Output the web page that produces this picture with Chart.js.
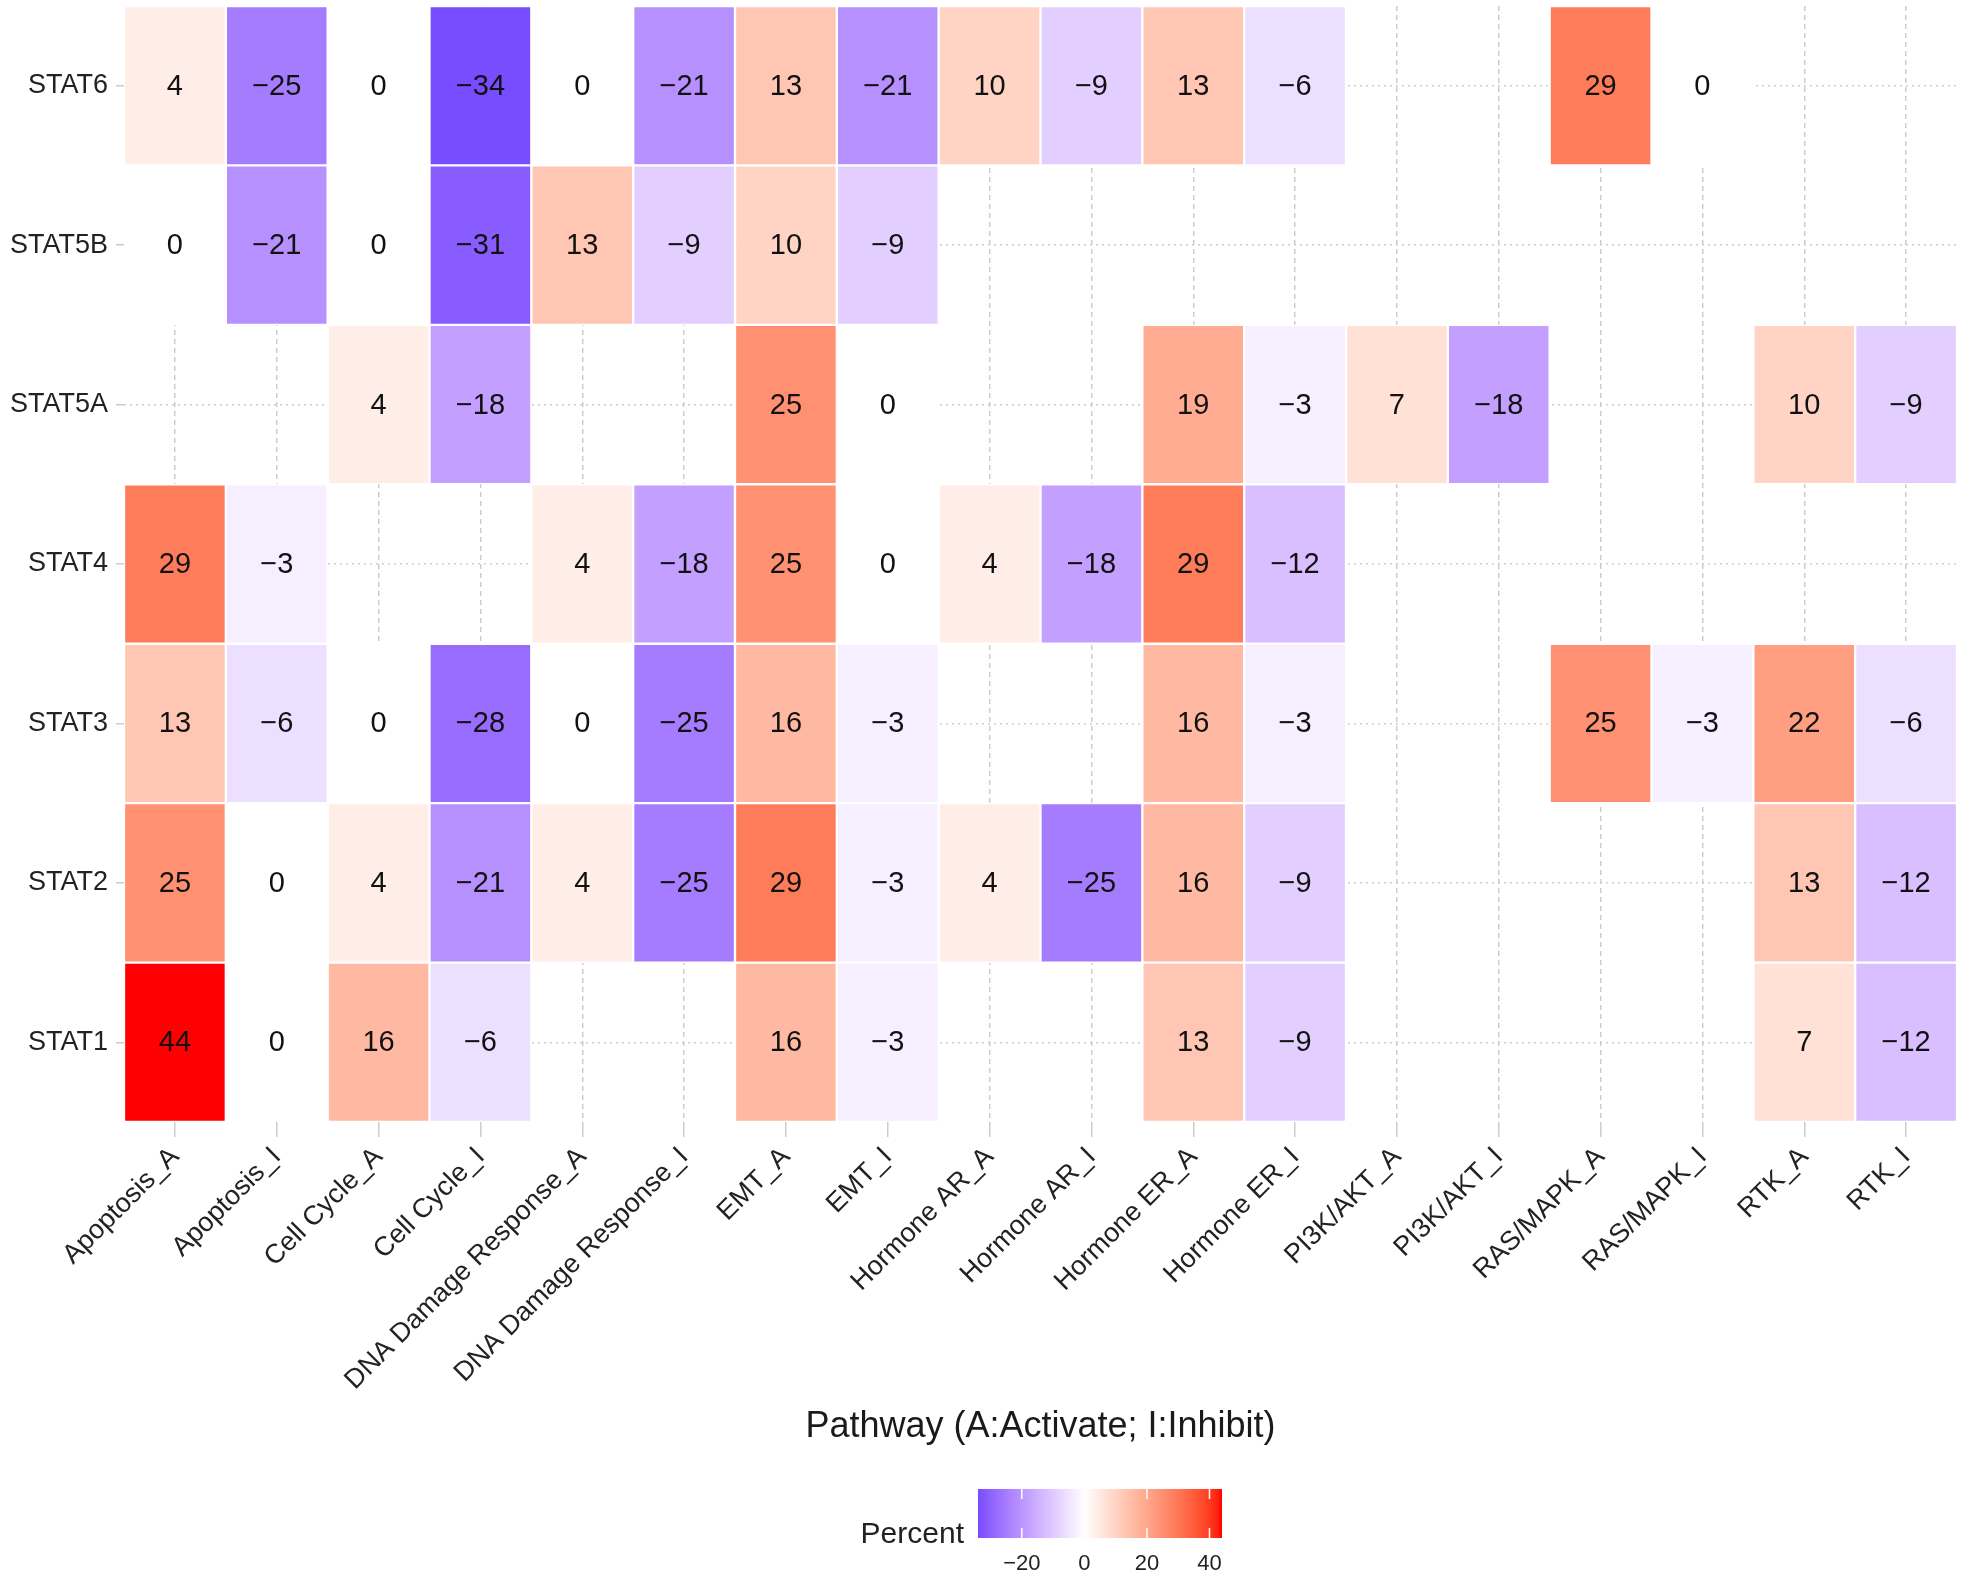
<!DOCTYPE html>
<html>
<head>
<meta charset="utf-8">
<script src="https://cdn.jsdelivr.net/npm/chart.js@4.4.1/dist/chart.umd.min.js"></script>
<style>
  html, body { margin: 0; padding: 0; background: #ffffff; }
  #wrap { width: 1969px; height: 1583px; position: relative; }
</style>
</head>
<body>
<div id="wrap"><canvas id="c"></canvas></div>
<script>
// ---- data ----
const pathways = ['Apoptosis_A','Apoptosis_I','Cell Cycle_A','Cell Cycle_I','DNA Damage Response_A','DNA Damage Response_I',
  'EMT_A','EMT_I','Hormone AR_A','Hormone AR_I','Hormone ER_A','Hormone ER_I','PI3K/AKT_A','PI3K/AKT_I',
  'RAS/MAPK_A','RAS/MAPK_I','RTK_A','RTK_I'];
const stats = ['STAT1','STAT2','STAT3','STAT4','STAT5A','STAT5B','STAT6']; // bottom to top
const stat1  = [44, 0, 16, -6, null, null, 16, -3, null, null, 13, -9, null, null, null, null, 7, -12];
const stat2  = [25, 0, 4, -21, 4, -25, 29, -3, 4, -25, 16, -9, null, null, null, null, 13, -12];
const stat3  = [13, -6, 0, -28, 0, -25, 16, -3, null, null, 16, -3, null, null, 25, -3, 22, -6];
const stat4  = [29, -3, null, null, 4, -18, 25, 0, 4, -18, 29, -12, null, null, null, null, null, null];
const stat5a = [null, null, 4, -18, null, null, 25, 0, null, null, 19, -3, 7, -18, null, null, 10, -9];
const stat5b = [0, -21, 0, -31, 13, -9, 10, -9, null, null, null, null, null, null, null, null, null, null];
const stat6  = [4, -25, 0, -34, 0, -21, 13, -21, 10, -9, 13, -6, null, null, 29, 0, null, null];
const rowValues = [stat1, stat2, stat3, stat4, stat5a, stat5b, stat6];
const legendTicks = [-20, 0, 20, 40];
const fillMin = -34, fillMax = 44;
const xTitle = 'Pathway (A:Activate; I:Inhibit)';
const legendTitle = 'Percent';

// ---- colour scale (gradient blue - white - red, Lab interpolation) ----
function srgbToLin(c){ c/=255; return c<=0.04045 ? c/12.92 : Math.pow((c+0.055)/1.055, 2.4); }
function linToSrgb(c){ c = c<=0.0031308 ? 12.92*c : 1.055*Math.pow(c,1/2.4)-0.055; return Math.round(Math.max(0,Math.min(1,c))*255); }
function rgbToLab(r,g,b){
  const R=srgbToLin(r),G=srgbToLin(g),B=srgbToLin(b);
  let X=(0.4124*R+0.3576*G+0.1805*B)/0.95047, Y=(0.2126*R+0.7152*G+0.0722*B), Z=(0.0193*R+0.1192*G+0.9505*B)/1.08883;
  const f=t=> t>0.008856 ? Math.cbrt(t) : (7.787*t+16/116);
  const fx=f(X),fy=f(Y),fz=f(Z);
  return [116*fy-16, 500*(fx-fy), 200*(fy-fz)];
}
function labToRgb(L,a,b){
  const fy=(L+16)/116, fx=fy+a/500, fz=fy-b/200;
  const fi=t=> t>0.206893 ? t*t*t : (t-16/116)/7.787;
  const X=fi(fx)*0.95047, Y=fi(fy), Z=fi(fz)*1.08883;
  const R= 3.2406*X-1.5372*Y-0.4986*Z, G=-0.9689*X+1.8758*Y+0.0415*Z, B=0.0557*X-0.2040*Y+1.0570*Z;
  return 'rgb('+linToSrgb(R)+','+linToSrgb(G)+','+linToSrgb(B)+')';
}
const LOW=rgbToLab(0,0,255), MID=rgbToLab(255,255,255), HIGH=rgbToLab(255,0,0);
function fillColor(v){
  const m = Math.max(Math.abs(fillMin), Math.abs(fillMax));
  const t = Math.max(-1, Math.min(1, v/m));
  const A = MID, Bc = t<0 ? LOW : HIGH, k = Math.abs(t);
  return labToRgb(A[0]+(Bc[0]-A[0])*k, A[1]+(Bc[1]-A[1])*k, A[2]+(Bc[2]-A[2])*k);
}
const fmt = v => (v<0 ? '\u2212'+Math.abs(v) : String(v));

const FONT = '"Liberation Sans", Arial, Helvetica, sans-serif';

const datasets = rowValues.map((vals, r) => ({
  label: stats[r],
  data: vals.map(v => v === null ? null : [r-0.5, r+0.5]),
  values: vals,
  backgroundColor: vals.map(v => v === null ? 'rgba(0,0,0,0)' : fillColor(v)),
  borderColor: '#ffffff',
  borderWidth: 1.5,
  borderSkipped: false,
  barPercentage: 1,
  categoryPercentage: 1,
  grouped: false
}));

const cellLabels = {
  id: 'cellLabels',
  afterDatasetsDraw(chart){
    const ctx = chart.ctx;
    ctx.save();
    ctx.font = '29px ' + FONT;
    ctx.fillStyle = '#111111';
    ctx.textAlign = 'center';
    ctx.textBaseline = 'middle';
    chart.data.datasets.forEach((ds, di) => {
      const meta = chart.getDatasetMeta(di);
      meta.data.forEach((el, i) => {
        const v = ds.values[i];
        if (v === null || v === undefined) return;
        ctx.fillText(fmt(v), el.x, (el.y + el.base)/2 + 1);
      });
    });
    ctx.restore();
  }
};

const colorbar = {
  id: 'colorbar',
  afterDraw(chart){
    const ctx = chart.ctx;
    const x0 = 978, x1 = 1222, y0 = 1489, y1 = 1538;
    const px = v => x0 + (v - fillMin)/(fillMax - fillMin)*(x1 - x0);
    ctx.save();
    const g = ctx.createLinearGradient(x0, 0, x1, 0);
    for (let v = fillMin; v <= fillMax; v += 1) g.addColorStop((v - fillMin)/(fillMax - fillMin), fillColor(v));
    ctx.fillStyle = g;
    ctx.fillRect(x0, y0, x1 - x0, y1 - y0);
    ctx.strokeStyle = '#ffffff';
    ctx.lineWidth = 1.5;
    legendTicks.forEach(t => {
      const x = px(t);
      ctx.beginPath();
      ctx.moveTo(x, y0); ctx.lineTo(x, y0 + 10);
      ctx.moveTo(x, y1 - 10); ctx.lineTo(x, y1);
      ctx.stroke();
    });
    ctx.fillStyle = '#222222';
    ctx.font = '22px ' + FONT;
    ctx.textAlign = 'center';
    ctx.textBaseline = 'middle';
    legendTicks.forEach(t => ctx.fillText(fmt(t), px(t), 1564));
    ctx.font = '30px ' + FONT;
    ctx.textAlign = 'right';
    ctx.fillText(legendTitle, 964, 1535);
    ctx.restore();
  }
};

new Chart(document.getElementById('c'), {
  type: 'bar',
  data: { labels: pathways, datasets },
  options: {
    responsive: true,
    maintainAspectRatio: false,
    animation: false,
    events: [],
    layout: { padding: { top: 6, right: 12, left: 0, bottom: 0 } },
    plugins: { legend: { display: false }, tooltip: { enabled: false } },
    scales: {
      x: {
        type: 'category',
        offset: true,
        grid: { offset: false, color: '#cdcdcd', lineWidth: 1.5, tickLength: 15, drawTicks: true },
        border: { display: false, dash: [5, 4] },
        ticks: { autoSkip: false, minRotation: 45, maxRotation: 45, padding: 4,
                 font: { size: 27, family: FONT }, color: '#222222' },
        title: { display: true, text: xTitle, font: { size: 36, family: FONT }, color: '#1a1a1a',
                 padding: { top: 4, bottom: 134 } },
        afterFit(scale){ scale.height = 461; scale.paddingLeft = 0; scale.paddingRight = 0; }
      },
      y: {
        type: 'linear',
        min: -0.5,
        max: 6.5,
        grid: { color: '#cdcdcd', lineWidth: 1.5, tickLength: 8, drawTicks: true },
        border: { display: false, dash: [2, 4] },
        afterBuildTicks(scale){ scale.ticks = stats.map((s, i) => ({ value: i })); },
        ticks: { callback: v => stats[v], padding: 8, font: { size: 27, family: FONT }, color: '#222222' },
        afterFit(scale){ scale.width = 124; scale.paddingTop = 0; scale.paddingBottom = 0; }
      }
    }
  },
  plugins: [cellLabels, colorbar]
});
</script>
</body>
</html>
